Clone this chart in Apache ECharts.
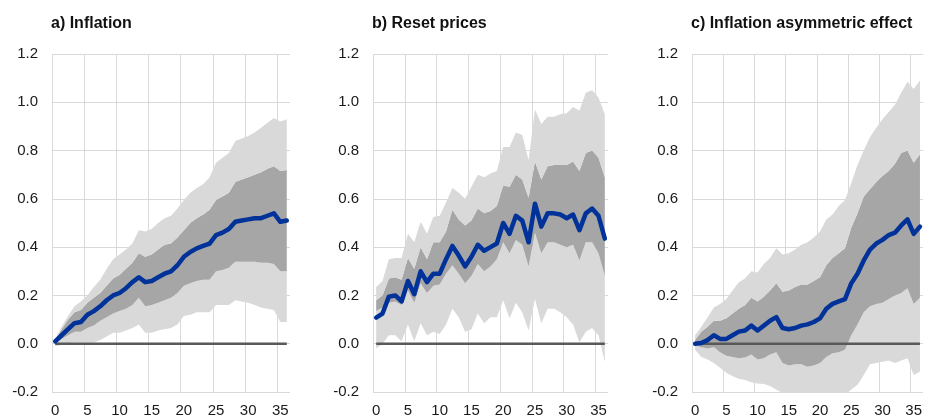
<!DOCTYPE html>
<html>
<head>
<meta charset="utf-8">
<script src="https://cdn.jsdelivr.net/npm/echarts@6/dist/echarts.min.js"></script>
<style>
  html, body { margin: 0; padding: 0; background: #fff; }
  #chart { width: 925px; height: 419px; }
</style>
</head>
<body>
<div id="chart"></div>
<script>
// horizon 0..36
const cats = ['0','1','2','3','4','5','6','7','8','9','10','11','12','13','14','15','16','17','18',
  '19','20','21','22','23','24','25','26','27','28','29','30','31','32','33','34','35','36']
const zeroLine = [0,0,0,0,0,0,0,0,0,0,0,0,0,0,0,0,0,0,0,0,0,0,0,0,0,0,0,0,0,0,0,0,0,0,0,0,0]

// a) Inflation
const aMed = [0.01,0.035,0.06,0.085,0.09,0.12,0.135,0.155,0.18,0.2,0.21,0.23,0.255,0.275,0.255,0.26,0.275,0.29,0.3,
  0.325,0.36,0.38,0.395,0.405,0.415,0.45,0.46,0.475,0.505,0.51,0.515,0.52,0.52,0.53,0.54,0.505,0.51]
const aOutHi = [0.02,0.07,0.115,0.155,0.175,0.2,0.235,0.265,0.31,0.35,0.37,0.39,0.415,0.47,0.465,0.475,0.5,0.52,0.53,
  0.56,0.595,0.625,0.645,0.66,0.69,0.75,0.77,0.79,0.84,0.85,0.86,0.875,0.895,0.915,0.935,0.92,0.93]
const aInHi = [0.015,0.06,0.1,0.13,0.14,0.17,0.19,0.21,0.24,0.27,0.285,0.31,0.335,0.375,0.36,0.37,0.39,0.41,0.415,
  0.44,0.47,0.5,0.52,0.535,0.555,0.595,0.61,0.625,0.67,0.68,0.69,0.7,0.71,0.725,0.735,0.715,0.72]
const aInLo = [0.005,0.02,0.035,0.05,0.05,0.065,0.075,0.095,0.11,0.125,0.135,0.145,0.16,0.19,0.155,0.16,0.17,0.18,0.19,
  0.21,0.24,0.25,0.26,0.265,0.265,0.3,0.305,0.315,0.34,0.34,0.34,0.34,0.335,0.335,0.33,0.3,0.3]
const aOutLo = [-0.01,-0.005,0,0.005,0.005,0.005,0.005,0.015,0.03,0.045,0.045,0.055,0.065,0.08,0.045,0.045,0.055,0.06,0.065,
  0.08,0.115,0.12,0.13,0.13,0.13,0.16,0.16,0.16,0.18,0.175,0.17,0.16,0.15,0.145,0.14,0.09,0.09]

// b) Reset prices
const bMed = [0.108,0.125,0.195,0.2,0.175,0.26,0.205,0.3,0.255,0.29,0.29,0.35,0.405,0.365,0.32,0.36,0.41,0.385,0.4,
  0.415,0.5,0.455,0.53,0.51,0.42,0.58,0.485,0.54,0.54,0.535,0.52,0.535,0.47,0.54,0.56,0.53,0.435]
const bOutHi = [0.235,0.26,0.35,0.355,0.355,0.455,0.42,0.505,0.455,0.525,0.53,0.585,0.645,0.625,0.6,0.65,0.7,0.69,0.705,
  0.715,0.815,0.815,0.875,0.865,0.76,0.97,0.91,0.94,0.94,0.95,0.955,0.98,0.965,1.04,1.05,1.02,0.95]
const bInHi = [0.18,0.2,0.27,0.275,0.265,0.355,0.31,0.4,0.35,0.42,0.42,0.465,0.555,0.515,0.49,0.51,0.56,0.54,0.55,
  0.57,0.655,0.65,0.7,0.68,0.605,0.755,0.68,0.735,0.74,0.74,0.74,0.755,0.715,0.79,0.8,0.77,0.69]
const bInLo = [0.135,0.15,0.17,0.175,0.16,0.22,0.17,0.25,0.21,0.24,0.245,0.29,0.325,0.29,0.25,0.28,0.33,0.3,0.32,
  0.35,0.42,0.375,0.43,0.41,0.32,0.46,0.375,0.42,0.42,0.41,0.4,0.41,0.345,0.42,0.42,0.375,0.28]
const bOutLo = [-0.02,0,0.035,0.035,0.01,0.08,0.01,0.085,0.035,0.05,0.04,0.08,0.145,0.11,0.05,0.06,0.125,0.085,0.11,
  0.11,0.18,0.105,0.17,0.13,0.055,0.185,0.085,0.145,0.145,0.13,0.11,0.08,0.005,0.05,0.065,0.035,-0.075]

// c) Inflation asymmetric effect
const cMed = [0,0.003,0.015,0.035,0.02,0.02,0.035,0.05,0.055,0.075,0.055,0.075,0.095,0.11,0.065,0.06,0.065,0.075,0.08,
  0.09,0.105,0.145,0.165,0.175,0.185,0.25,0.29,0.345,0.39,0.415,0.43,0.45,0.46,0.49,0.515,0.455,0.485]
const cOutHi = [0.035,0.07,0.11,0.15,0.165,0.185,0.22,0.255,0.27,0.3,0.295,0.33,0.355,0.395,0.37,0.375,0.39,0.41,0.42,
  0.44,0.465,0.515,0.535,0.57,0.595,0.665,0.74,0.8,0.855,0.895,0.93,0.96,0.99,1.04,1.085,1.055,1.09]
const cInHi = [0.015,0.05,0.07,0.095,0.095,0.105,0.125,0.145,0.16,0.19,0.175,0.195,0.22,0.25,0.215,0.22,0.235,0.245,0.245,
  0.26,0.275,0.325,0.355,0.375,0.395,0.48,0.54,0.61,0.64,0.67,0.695,0.715,0.745,0.79,0.8,0.75,0.785]
const cInLo = [-0.005,-0.015,-0.02,-0.015,-0.035,-0.05,-0.055,-0.06,-0.057,-0.045,-0.065,-0.06,-0.045,-0.035,-0.08,-0.09,-0.085,-0.085,-0.095,
  -0.09,-0.08,-0.055,-0.04,-0.035,-0.025,0.035,0.08,0.13,0.155,0.165,0.17,0.185,0.2,0.21,0.23,0.165,0.19]
const cOutLo = [-0.025,-0.055,-0.065,-0.08,-0.1,-0.12,-0.135,-0.145,-0.15,-0.16,-0.165,-0.167,-0.175,-0.19,-0.205,-0.22,-0.23,-0.23,-0.24,
  -0.24,-0.24,-0.24,-0.23,-0.22,-0.21,-0.19,-0.17,-0.13,-0.085,-0.08,-0.075,-0.07,-0.08,-0.07,-0.06,-0.13,-0.115]

const titles = ['a) Inflation', 'b) Reset prices', 'c) Inflation asymmetric effect']
const panels = [
  [aMed, aOutLo, aInLo, aInHi, aOutHi],
  [bMed, bOutLo, bInLo, bInHi, bOutHi],
  [cMed, cOutLo, cInLo, cInHi, cOutHi],
]

const FONT = 'Liberation Sans, Arial, sans-serif'
const LIGHT = '#d9d9d9'
const DARK = '#a6a6a6'
const BLUE = '#003299'
const grids = [
  { left: 52, top: 54, width: 238, height: 338 },
  { left: 373, top: 54, width: 235, height: 338 },
  { left: 692, top: 54, width: 235, height: 338 },
]

function diff(hi, lo) {
  return hi.map((v, i) => +(v - lo[i]).toFixed(4))
}

function band(idx, name, data, color) {
  return {
    name: name,
    type: 'line',
    xAxisIndex: idx,
    yAxisIndex: idx,
    stack: 'band' + idx,
    stackStrategy: 'all',
    data: data,
    showSymbol: false,
    silent: true,
    lineStyle: { width: 0, opacity: 0 },
    areaStyle: color ? { color: color, opacity: 1 } : undefined,
  }
}

const series = []
panels.forEach((p, idx) => {
  const [med, outLo, inLo, inHi, outHi] = p
  series.push(band(idx, 'base', outLo, null))
  series.push(band(idx, 'outer low', diff(inLo, outLo), LIGHT))
  series.push(band(idx, 'inner', diff(inHi, inLo), DARK))
  series.push(band(idx, 'outer high', diff(outHi, inHi), LIGHT))
  series.push({
    type: 'line', xAxisIndex: idx, yAxisIndex: idx, data: zeroLine,
    showSymbol: false, silent: true,
    lineStyle: { color: '#595959', width: 2.5 },
  })
  series.push({
    type: 'line', xAxisIndex: idx, yAxisIndex: idx, data: med,
    showSymbol: false,
    lineStyle: { color: BLUE, width: 4.5, join: 'round', cap: 'round' },
  })
})

const option = {
  animation: false,
  backgroundColor: '#fff',
  title: titles.map((t, i) => ({
    text: t,
    left: grids[i].left - 1,
    top: 16,
    padding: 0,
    textStyle: { fontFamily: FONT, fontSize: 16, fontWeight: 'bold', color: '#111' },
  })),
  grid: grids,
  xAxis: grids.map((g, i) => ({
    type: 'category',
    gridIndex: i,
    data: cats,
    boundaryGap: true,
    axisLine: { show: false },
    axisTick: { show: false, interval: 4 },
    axisLabel: { interval: 4, margin: 11, fontFamily: FONT, fontSize: 15, color: '#1a1a1a' },
    splitLine: { show: true, interval: 4, showMaxLine: false, lineStyle: { color: LIGHT, width: 1 } },
  })),
  yAxis: grids.map((g, i) => ({
    type: 'value',
    gridIndex: i,
    min: -0.2,
    max: 1.2,
    interval: 0.2,
    axisLine: { show: false },
    axisTick: { show: false },
    axisLabel: { margin: 14, fontFamily: FONT, fontSize: 15, color: '#1a1a1a', formatter: v => v.toFixed(1) },
    splitLine: { show: true, lineStyle: { color: LIGHT, width: 1 } },
  })),
  series: series,
}

const chart = echarts.init(document.getElementById('chart'), null, { renderer: 'canvas' })
chart.setOption(option)
</script>
</body>
</html>
